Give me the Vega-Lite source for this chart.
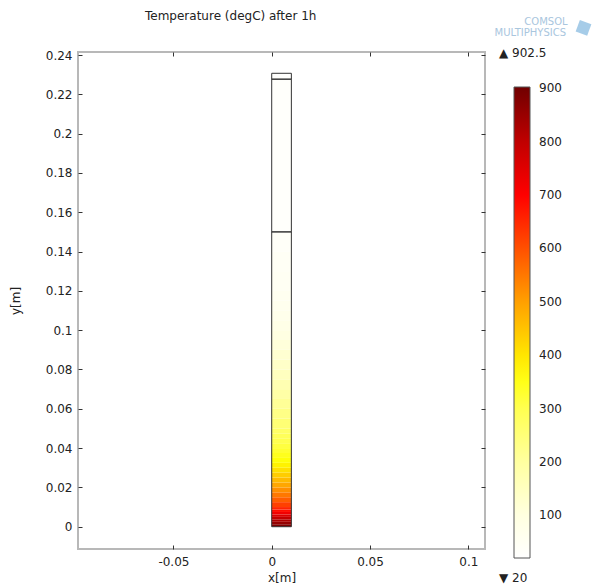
{
  "$schema": "https://vega.github.io/schema/vega-lite/v6.json",
  "width": 407,
  "height": 497,
  "autosize": "none",
  "padding": {"left": 78, "top": 52, "right": 108, "bottom": 39},
  "background": "white",
  "title": {"text": "Temperature (degC) after 1h", "anchor": "start", "frame": "group", "dx": 67, "offset": 0, "baseline": "alphabetic", "dy": 15, "font": "DejaVu Sans", "fontSize": 12, "fontWeight": "normal", "color": "#222"},
  "config": {
    "view": {"stroke": "#b8b8b8", "strokeWidth": 2},
    "axis": {"labelFont": "DejaVu Sans", "labelFontSize": 12, "labelColor": "#222", "titleFont": "DejaVu Sans", "titleFontSize": 12, "titleFontWeight": "normal", "titleColor": "#222", "domain": false, "grid": false, "tickColor": "#333", "tickSize": -4, "tickWidth": 1},
    "legend": {"labelFont": "DejaVu Sans", "labelFontSize": 12, "labelColor": "#222"}
  },
  "datasets": {
    "heat": [
      {"y0": 0, "y1": 0.00125, "T": 885},
      {"y0": 0.00125, "y1": 0.0025, "T": 855},
      {"y0": 0.0025, "y1": 0.00375, "T": 825},
      {"y0": 0.00375, "y1": 0.005, "T": 795},
      {"y0": 0.005, "y1": 0.00625, "T": 760},
      {"y0": 0.00625, "y1": 0.0075, "T": 720},
      {"y0": 0.0075, "y1": 0.00875, "T": 685},
      {"y0": 0.00875, "y1": 0.01, "T": 655},
      {"y0": 0.01, "y1": 0.0125, "T": 620},
      {"y0": 0.0125, "y1": 0.015, "T": 582},
      {"y0": 0.015, "y1": 0.0175, "T": 550},
      {"y0": 0.0175, "y1": 0.02, "T": 520},
      {"y0": 0.02, "y1": 0.0225, "T": 490},
      {"y0": 0.0225, "y1": 0.025, "T": 463},
      {"y0": 0.025, "y1": 0.0275, "T": 436},
      {"y0": 0.0275, "y1": 0.03, "T": 409},
      {"y0": 0.03, "y1": 0.0325, "T": 385},
      {"y0": 0.0325, "y1": 0.035, "T": 362},
      {"y0": 0.035, "y1": 0.0375, "T": 345},
      {"y0": 0.0375, "y1": 0.04, "T": 328},
      {"y0": 0.04, "y1": 0.0425, "T": 314},
      {"y0": 0.0425, "y1": 0.045, "T": 301},
      {"y0": 0.045, "y1": 0.0475, "T": 287},
      {"y0": 0.0475, "y1": 0.05, "T": 272},
      {"y0": 0.05, "y1": 0.055, "T": 254},
      {"y0": 0.055, "y1": 0.06, "T": 232},
      {"y0": 0.06, "y1": 0.065, "T": 211},
      {"y0": 0.065, "y1": 0.07, "T": 191},
      {"y0": 0.07, "y1": 0.075, "T": 172},
      {"y0": 0.075, "y1": 0.08, "T": 152},
      {"y0": 0.08, "y1": 0.085, "T": 138},
      {"y0": 0.085, "y1": 0.09, "T": 123},
      {"y0": 0.09, "y1": 0.095, "T": 109},
      {"y0": 0.095, "y1": 0.1, "T": 96},
      {"y0": 0.1, "y1": 0.105, "T": 83},
      {"y0": 0.105, "y1": 0.11, "T": 71},
      {"y0": 0.11, "y1": 0.115, "T": 63},
      {"y0": 0.115, "y1": 0.12, "T": 58},
      {"y0": 0.12, "y1": 0.13, "T": 52},
      {"y0": 0.13, "y1": 0.14, "T": 45},
      {"y0": 0.14, "y1": 0.15, "T": 39},
      {"y0": 0.15, "y1": 0.2277, "T": 30},
      {"y0": 0.2277, "y1": 0.2307, "T": 26}
    ],
    "domains": [
      {"y0": 0, "y1": 0.15},
      {"y0": 0.15, "y1": 0.2277},
      {"y0": 0.2277, "y1": 0.2307}
    ],
    "labels": [
      {"x": 0.1156, "y": 0.2410, "label": "▲ 902.5"},
      {"x": 0.1156, "y": -0.0261, "label": "▼ 20"}
    ],
    "logo": [
      {"x": 0.1505, "y": 0.2568, "label": "COMSOL"},
      {"x": 0.1497, "y": 0.2510, "label": "MULTIPHYSICS"}
    ],
    "cube": [
      {"x": 0.1586, "y": 0.2538}
    ]
  },
  "layer": [
    {
      "data": {"name": "heat"},
      "mark": {"type": "rect", "strokeWidth": 0},
      "encoding": {
        "x": {"datum": 0, "type": "quantitative", "scale": {"domain": [-0.09853, 0.10849], "nice": false, "zero": false}, "axis": {"values": [-0.05, 0, 0.05, 0.1], "labelExpr": "toString(datum.value)", "title": "x[m]", "titlePadding": 5, "labelPadding": 11, "orient": "bottom"}},
        "x2": {"datum": 0.01},
        "y": {"field": "y0", "type": "quantitative", "scale": {"domain": [-0.01134, 0.24153], "nice": false, "zero": false}, "axis": {"values": [0, 0.02, 0.04, 0.06, 0.08, 0.1, 0.12, 0.14, 0.16, 0.18, 0.2, 0.22, 0.24], "labelExpr": "toString(datum.value)", "title": "y[m]", "titlePadding": 23, "labelPadding": 10, "orient": "left"}},
        "y2": {"field": "y1"},
        "color": {"field": "T", "type": "quantitative",
          "scale": {"domain": [20, 100, 200, 300, 370, 400, 500, 600, 700, 800, 902.5], "range": ["#ffffff", "#ffffe0", "#ffffa0", "#ffff50", "#ffff00", "#ffe600", "#ffa000", "#ff5000", "#ff0000", "#c00000", "#700000"], "interpolate": "rgb", "nice": false, "zero": false},
          "legend": {"orient": "none", "legendX": 436, "legendY": 35, "title": null, "direction": "vertical", "gradientLength": 471, "gradientThickness": 16, "gradientStrokeColor": "#555", "gradientStrokeWidth": 1, "values": [100, 200, 300, 400, 500, 600, 700, 800, 900], "labelOffset": 9}}
      }
    },
    {
      "data": {"name": "domains"},
      "mark": {"type": "rect", "fill": null, "filled": false, "stroke": "#333", "strokeWidth": 1},
      "encoding": {
        "x": {"datum": 0, "type": "quantitative", "axis": {"orient": "top", "values": [-0.05, 0, 0.05, 0.1], "labels": false, "title": null}},
        "x2": {"datum": 0.01},
        "y": {"field": "y0", "type": "quantitative", "axis": {"orient": "right", "values": [0, 0.02, 0.04, 0.06, 0.08, 0.1, 0.12, 0.14, 0.16, 0.18, 0.2, 0.22, 0.24], "labels": false, "title": null}},
        "y2": {"field": "y1"}
      }
    },
    {
      "data": {"name": "labels"},
      "mark": {"type": "text", "align": "left", "baseline": "middle", "font": "DejaVu Sans", "fontSize": 12, "color": "#222", "clip": false},
      "encoding": {
        "x": {"field": "x", "type": "quantitative", "axis": null},
        "y": {"field": "y", "type": "quantitative", "axis": null},
        "text": {"field": "label"}
      }
    },
    {
      "data": {"name": "logo"},
      "mark": {"type": "text", "align": "right", "baseline": "middle", "font": "DejaVu Sans", "fontSize": 10, "color": "#a9c6de", "clip": false},
      "encoding": {
        "x": {"field": "x", "type": "quantitative", "axis": null},
        "y": {"field": "y", "type": "quantitative", "axis": null},
        "text": {"field": "label"}
      }
    },
    {
      "data": {"name": "cube"},
      "mark": {"type": "point", "shape": "square", "filled": true, "color": "#9cc6e6", "size": 150, "angle": 20, "opacity": 0.9, "clip": false},
      "encoding": {
        "x": {"field": "x", "type": "quantitative", "axis": null},
        "y": {"field": "y", "type": "quantitative", "axis": null}
      }
    }
  ],
  "resolve": {"axis": {"x": "independent", "y": "independent"}}
}
